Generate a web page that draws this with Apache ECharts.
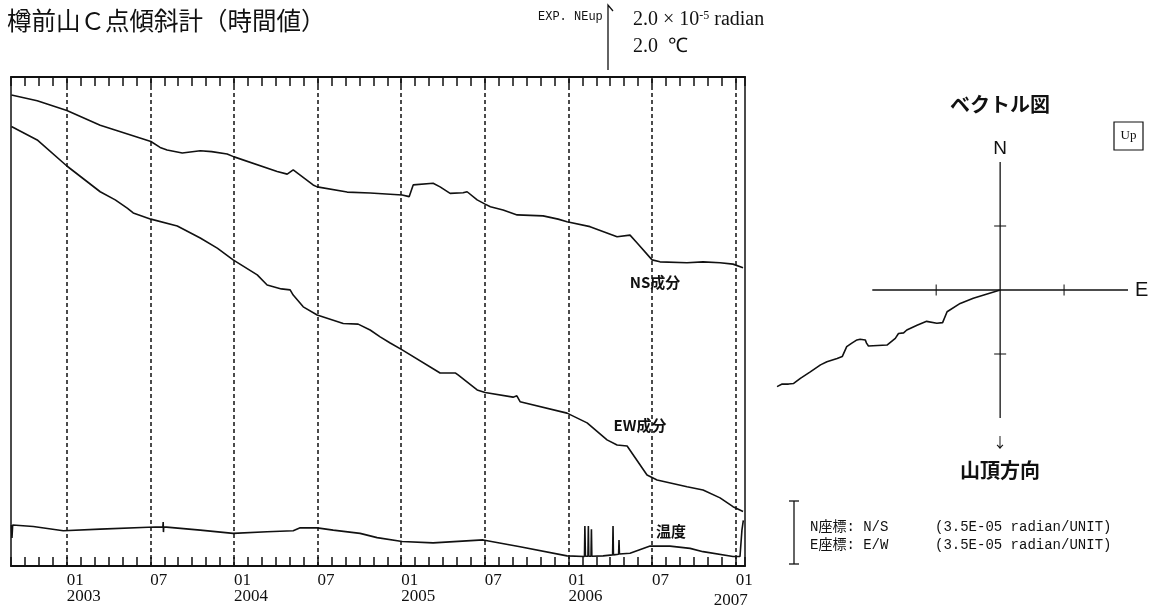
<!DOCTYPE html>
<html>
<head>
<meta charset="utf-8">
<title>樽前山C点傾斜計(時間値)</title>
<script src="https://cdn.jsdelivr.net/npm/echarts@6.0.0/dist/echarts.min.js"></script>
<style>
	html, body { margin: 0; padding: 0; background: #fff; }
	#chart { width: 1156px; height: 616px; }
</style>
</head>
<body>
<div id="chart"></div>
<script>
//横軸: 2003年1月を 0 とした月数
const monthMin = -4;     //2002-09
const monthMax = 48.67;  //2007-01 下旬

const halfYearTicks = [0, 6, 12, 18, 24, 30, 36, 42, 48];
const halfYearLabels = ['01\n2003', '07', '01\n2004', '07', '01\n2005', '07', '01\n2006', '07', '01\n{last|2007}'];

//縦軸: 1 = 1.0×10^-5 radian (温度は 1.0 ℃)
const nsValues = [
	[-3.97, 14.45], [-2.12, 14.27], [0.01, 13.97], [2.40, 13.52], [6.04, 13.02], [6.70, 12.84],
	[7.20, 12.76], [8.29, 12.67], [9.58, 12.74], [10.40, 12.71], [11.51, 12.64], [12.01, 12.55],
	[15.10, 12.10], [15.82, 12.02], [16.25, 12.15], [16.75, 11.99], [17.68, 11.69], [17.97, 11.63],
	[20.12, 11.47], [21.77, 11.44], [24.07, 11.38], [24.57, 11.33], [24.86, 11.69], [25.00, 11.72],
	[26.29, 11.74], [26.79, 11.63], [27.51, 11.43], [28.44, 11.45], [28.73, 11.48], [29.45, 11.23],
	[30.02, 11.10], [30.40, 11.02], [31.31, 10.92], [32.32, 10.77], [34.18, 10.74], [35.26, 10.64],
	[35.90, 10.56], [37.55, 10.41], [39.49, 10.10], [40.42, 10.15], [40.93, 9.91], [42.00, 9.39],
	[42.57, 9.33], [44.51, 9.30], [45.66, 9.33], [46.88, 9.30], [47.81, 9.26], [48.53, 9.15]
];

const ewValues = [
	[-3.97, 13.48], [-2.12, 13.07], [0.01, 12.27], [2.40, 11.48], [3.48, 11.23], [4.34, 10.98],
	[4.77, 10.83], [6.04, 10.64], [7.93, 10.43], [9.58, 10.06], [10.80, 9.75], [11.94, 9.39],
	[13.67, 8.93], [14.38, 8.62], [15.40, 8.50], [16.03, 8.47], [16.25, 8.31], [16.97, 7.95],
	[17.97, 7.70], [19.84, 7.44], [20.91, 7.42], [21.77, 7.24], [22.49, 7.03], [23.21, 6.84],
	[24.07, 6.63], [26.79, 5.92], [27.90, 5.92], [28.08, 5.86], [29.45, 5.40], [30.02, 5.32],
	[32.03, 5.18], [32.30, 5.22], [32.53, 5.04], [35.90, 4.69], [37.34, 4.39], [38.77, 3.87],
	[39.49, 3.71], [40.21, 3.68], [41.64, 2.79], [42.36, 2.64], [44.51, 2.43], [45.66, 2.33],
	[46.88, 2.09], [47.81, 1.82], [48.53, 1.67]
];

const tempValues = [
	[-3.97, 1.26], [-3.93, 0.86], [-3.88, 1.26], [-2.40, 1.21], [-0.25, 1.08], [2.40, 1.13],
	[5.85, 1.19], [6.90, 1.20], [6.92, 1.35], [6.94, 1.04], [6.96, 1.20], [9.58, 1.10],
	[11.94, 1.00], [14.38, 1.05], [16.25, 1.08], [16.75, 1.17], [17.97, 1.17], [19.12, 1.10],
	[21.05, 1.00], [22.27, 0.87], [24.07, 0.75], [26.29, 0.71], [29.88, 0.80], [32.53, 0.59],
	[35.90, 0.31], [37.15, 0.29], [37.18, 1.23], [37.22, 0.30], [37.40, 0.30], [37.43, 1.23],
	[37.46, 0.30], [37.62, 0.30], [37.65, 1.13], [37.68, 0.30], [38.49, 0.31], [39.17, 0.34],
	[39.20, 1.23], [39.23, 0.34], [39.60, 0.36], [39.63, 0.80], [39.66, 0.37], [40.42, 0.39],
	[41.86, 0.61], [43.29, 0.61], [44.73, 0.54], [45.66, 0.44], [47.81, 0.29], [48.31, 0.29],
	[48.45, 1.10], [48.55, 1.40]
];

//ベクトル図 (3.5E-05 radian/UNIT)
const vectorTrack = [
	[0, 0], [-0.42, -0.13], [-0.625, -0.21], [-0.83, -0.34], [-0.86, -0.37], [-0.90, -0.51],
	[-0.99, -0.52], [-1.15, -0.49], [-1.30, -0.55], [-1.46, -0.625], [-1.51, -0.67], [-1.59, -0.68],
	[-1.64, -0.755], [-1.77, -0.86], [-2.06, -0.875], [-2.09, -0.83], [-2.11, -0.78], [-2.19, -0.77],
	[-2.24, -0.78], [-2.32, -0.83], [-2.40, -0.885], [-2.47, -1.04], [-2.55, -1.07], [-2.71, -1.12],
	[-2.81, -1.17], [-2.97, -1.28], [-3.125, -1.38], [-3.23, -1.46], [-3.31, -1.47], [-3.41, -1.47],
	[-3.49, -1.51]
];
const vectorAxisEW = [[-2, 0], [2, 0]];
const vectorAxisNS = [[0, 2], [0, -2]];
const vectorTicksEW = [[-1, 0], [1, 0]];
const vectorTicksNS = [[0, 1], [0, -1]];

const ink = '#111';
const jpFont = '"Noto Sans CJK JP", sans-serif';
const serifFont = '"Liberation Serif", serif';
const monoFont = '"Liberation Mono", "Noto Sans CJK JP", monospace';

const timeLine = function (name, data) {
	return {
		name: name,
		type: 'line',
		xAxisIndex: 0,
		yAxisIndex: 0,
		data: data,
		showSymbol: false,
		silent: true,
		lineStyle: { color: ink, width: 1.6 }
	};
};

const vectorLine = function (data, width) {
	return {
		type: 'line',
		xAxisIndex: 2,
		yAxisIndex: 1,
		data: data,
		showSymbol: false,
		silent: true,
		lineStyle: { color: ink, width: width }
	};
};

const vectorTick = function (data, size) {
	return {
		type: 'scatter',
		xAxisIndex: 2,
		yAxisIndex: 1,
		data: data,
		symbol: 'rect',
		symbolSize: size,
		silent: true,
		itemStyle: { color: ink }
	};
};

const monthAxis = function (position, withLabel) {
	return {
		type: 'value',
		gridIndex: 0,
		position: position,
		min: monthMin,
		max: monthMax,
		interval: 1,
		axisLine: { show: true, onZero: false, lineStyle: { color: ink, width: 2 } },
		axisTick: { show: true, inside: true, length: 9, lineStyle: { color: ink, width: 1.5 } },
		splitLine: { show: false },
		axisLabel: {
			show: withLabel,
			align: 'left',
			margin: 7,
			color: ink,
			fontFamily: serifFont,
			fontSize: 17,
			lineHeight: 16,
			formatter: function (value) {
				const idx = halfYearTicks.indexOf(value);
				return idx < 0 ? '' : halfYearLabels[idx];
			},
			rich: {
				last: { fontFamily: serifFont, fontSize: 17, lineHeight: 16, padding: [8, 0, 0, -22] }
			}
		}
	};
};

const chart = echarts.init(document.getElementById('chart'));

const nsSeries = timeLine('NS成分', nsValues);
nsSeries.markLine = {
	silent: true,
	symbol: ['none', 'none'],
	label: { show: false },
	lineStyle: { color: ink, width: 1.5, type: [4, 3] },
	data: halfYearTicks.map(function (m) { return { xAxis: m }; })
};

const text = function (x, y, str, font, align, verticalAlign) {
	return {
		type: 'text',
		x: x,
		y: y,
		silent: true,
		style: { text: str, font: font, fill: ink, align: align || 'left', verticalAlign: verticalAlign || 'middle' }
	};
};

const options = {
	animation: false,
	backgroundColor: '#fff',
	grid: [
		{ left: 11, top: 77, width: 734, height: 489, show: true, borderColor: ink, borderWidth: 1.5 },
		{ left: 770, top: 162, width: 358, height: 256 }
	],
	xAxis: [
		monthAxis('bottom', true),
		monthAxis('top', false),
		{ type: 'value', gridIndex: 1, min: -3.6, max: 2, show: false }
	],
	yAxis: [
		{ type: 'value', gridIndex: 0, min: 0, max: 15, show: false },
		{ type: 'value', gridIndex: 1, min: -2, max: 2, show: false }
	],
	series: [
		nsSeries,
		timeLine('EW成分', ewValues),
		timeLine('温度', tempValues),
		vectorLine(vectorAxisEW, 1.3),
		vectorLine(vectorAxisNS, 1.3),
		vectorTick(vectorTicksEW, [1.3, 11]),
		vectorTick(vectorTicksNS, [12, 1.3]),
		vectorLine(vectorTrack, 1.6)
	],
	graphic: [
		text(7, 21, '樽前山Ｃ点傾斜計（時間値）', '24.5px ' + jpFont),

		//スケール
		text(538, 17, 'EXP. NEup', '12px ' + monoFont),
		{ type: 'polyline', silent: true, shape: { points: [[608, 70], [608, 5], [613, 11]] }, style: { stroke: ink, lineWidth: 1.3, fill: null } },
		{
			type: 'text', x: 633, y: 20, silent: true,
			style: {
				text: '2.0 × 10{sup|-5} radian', font: '20px ' + serifFont, fill: ink, verticalAlign: 'middle',
				rich: { sup: { fontSize: 12, fontFamily: serifFont, verticalAlign: 'top' } }
			}
		},
		text(633, 47, '2.0  ℃', '20px ' + serifFont),

		//成分名
		text(655, 282, 'NS成分', 'bold 15px ' + jpFont, 'center'),
		text(640, 425, 'EW成分', 'bold 15px ' + jpFont, 'center'),
		text(671, 531, '温度', 'bold 15px ' + jpFont, 'center'),

		//ベクトル図
		text(1000, 104, 'ベクトル図', 'bold 20px ' + jpFont, 'center'),
		text(1000, 149, 'N', '19px "Liberation Sans", sans-serif', 'center'),
		text(1135, 290, 'E', '20px "Liberation Sans", sans-serif', 'left'),
		text(1000, 442, '↓', '14px ' + jpFont, 'center'),
		text(1000, 470, '山頂方向', 'bold 20px ' + jpFont, 'center'),
		{ type: 'rect', silent: true, shape: { x: 1114, y: 122, width: 29, height: 28 }, style: { stroke: ink, lineWidth: 1.2, fill: null } },
		text(1128.5, 136, 'Up', '13px ' + serifFont, 'center'),

		//座標の凡例
		{ type: 'polyline', silent: true, shape: { points: [[789, 501], [799, 501]] }, style: { stroke: ink, lineWidth: 1.3, fill: null } },
		{ type: 'polyline', silent: true, shape: { points: [[794, 501], [794, 564]] }, style: { stroke: ink, lineWidth: 1.3, fill: null } },
		{ type: 'polyline', silent: true, shape: { points: [[789, 564], [799, 564]] }, style: { stroke: ink, lineWidth: 1.3, fill: null } },
		text(810, 527, 'N座標: N/S', '14px ' + monoFont),
		text(935, 527, '(3.5E-05 radian/UNIT)', '14px ' + monoFont),
		text(810, 545, 'E座標: E/W', '14px ' + monoFont),
		text(935, 545, '(3.5E-05 radian/UNIT)', '14px ' + monoFont)
	]
};

chart.setOption(options);
</script>
</body>
</html>
